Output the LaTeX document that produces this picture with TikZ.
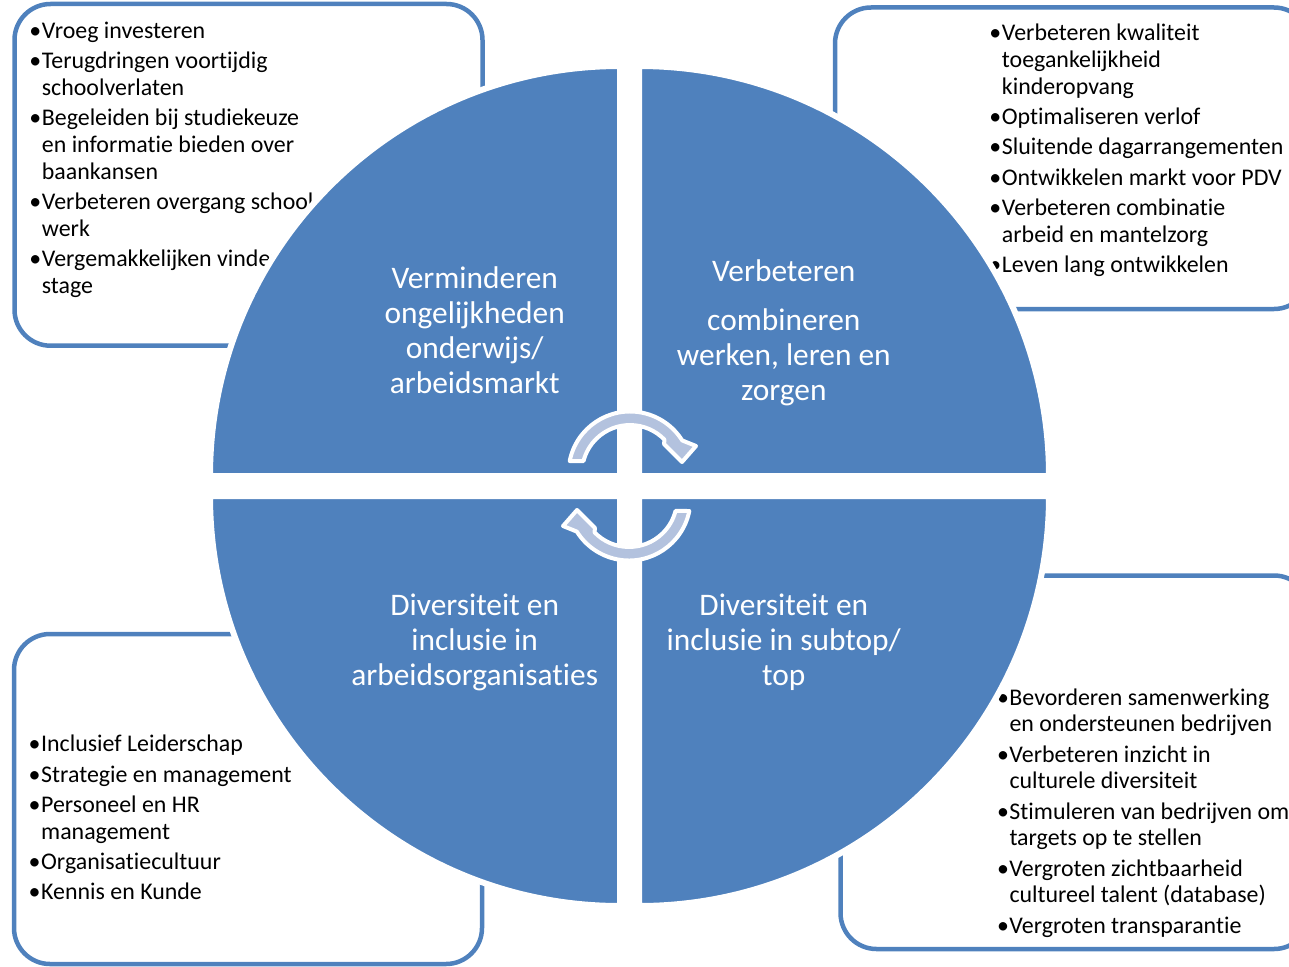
\documentclass[tikz,border=0pt]{standalone}
\usepackage{fontspec}
\setmainfont{Carlito}[RawFeature={-liga;-clig;-calt;-dlig}]
\definecolor{mblue}{HTML}{4F81BD}
\definecolor{mlight}{HTML}{B3C2DE}
\newcommand{\bul}{\makebox[12.5pt][l]{•}}
\newcommand{\ind}{\hspace*{12.5pt}}
\tikzset{
  listbox/.style={draw=mblue, line width=4.5pt, rounded corners=36pt},
  listtext/.style={anchor=base west, inner sep=0pt, align=left, text=black, font=\fontsize{23.9}{26.7}\selectfont},
  quarter/.style={fill=mblue, draw=white, line width=6pt},
  quartext/.style={anchor=base, inner sep=0pt, align=center, text=white, font=\fontsize{31.4}{35}\selectfont},
  cyclearrow/.style={fill=mlight, draw=white, line width=4pt, line join=round}
}
\begin{document}
\begin{tikzpicture}[x=1pt, y=-1pt]
\useasboundingbox (0,0) rectangle (1289,966);
\draw [listbox] (14.5,4) rectangle (482.5,345.7);
\draw [listbox] (835,7.5) rectangle (1310,309);
\draw [listbox] (14,634) rectangle (482,964);
\draw [listbox] (840.5,575.5) rectangle (1310,949);
\node (onderwijs) [listtext] at (29.2,293) {\bul Vroeg investeren\\[3.6pt]
  \bul Terugdringen voortijdig\\ \ind schoolverlaten\\[3.6pt]
  \bul Begeleiden bij studiekeuze\\ \ind en informatie bieden over\\ \ind baankansen\\[3.6pt]
  \bul Verbeteren overgang school-\\ \ind werk\\[3.6pt]
  \bul Vergemakkelijken vinden\\ \ind stage};
\node (combineren) [listtext] at (989.2,272.3) {\bul Verbeteren kwaliteit\\ \ind toegankelijkheid\\ \ind kinderopvang\\[3.6pt]
  \bul Optimaliseren verlof\\[3.6pt]
  \bul Sluitende dagarrangementen\\[3.6pt]
  \bul Ontwikkelen markt voor PDV\\[3.6pt]
  \bul Verbeteren combinatie\\ \ind arbeid en mantelzorg\\[3.6pt]
  \bul Leven lang ontwikkelen};
\node (organisaties) [listtext] at (28.5,899.6) {\bul Inclusief Leiderschap\\[3.6pt]
  \bul Strategie en management\\[3.6pt]
  \bul Personeel en HR\\ \ind management\\[3.6pt]
  \bul Organisatiecultuur\\[3.6pt]
  \bul Kennis en Kunde};
\node (subtop) [listtext] at (996.8,933) {\bul Bevorderen samenwerking\\ \ind en ondersteunen bedrijven\\[3.6pt]
  \bul Verbeteren inzicht in\\ \ind culturele diversiteit\\[3.6pt]
  \bul Stimuleren van bedrijven om\\ \ind targets op te stellen\\[3.6pt]
  \bul Vergroten zichtbaarheid\\ \ind cultureel talent (database)\\[3.6pt]
  \bul Vergroten transparantie};
\draw [quarter] (620,476) -- (210,476) arc[start angle=180, end angle=270, radius=410] -- cycle;
\draw [quarter] (639,476) -- (639,66) arc[start angle=270, end angle=360, radius=410] -- cycle;
\draw [quarter] (639,496) -- (1049,496) arc[start angle=0, end angle=90, radius=410] -- cycle;
\draw [quarter] (620,496) -- (620,906) arc[start angle=90, end angle=180, radius=410] -- cycle;
\node (q1) [quartext] at (474.7,393.3) {Verminderen\\ongelijkheden\\onderwijs/\\arbeidsmarkt};
\node (q2) [quartext] at (783.8,400.7) {Verbeteren\\[14pt]combineren\\werken, leren en\\zorgen};
\node (q3) [quartext] at (474.7,685) {Diversiteit en\\inclusie in\\arbeidsorganisaties};
\node (q4) [quartext] at (783.8,685) {Diversiteit en\\inclusie in subtop/\\top};
\draw [cyclearrow] (569.7,461) arc[start angle=191.25, end angle=328, radius=61.5] -- (696,446) -- (682,462) -- (664,444) -- (664.5,439.7) arc[start angle=316, end angle=194.48, radius=48] -- cycle;
\draw [cyclearrow, rotate around={180:(629.5,486)}] (569.7,461) arc[start angle=191.25, end angle=328, radius=61.5] -- (696,446) -- (682,462) -- (664,444) -- (664.5,439.7) arc[start angle=316, end angle=194.48, radius=48] -- cycle;
\end{tikzpicture}
\end{document}
